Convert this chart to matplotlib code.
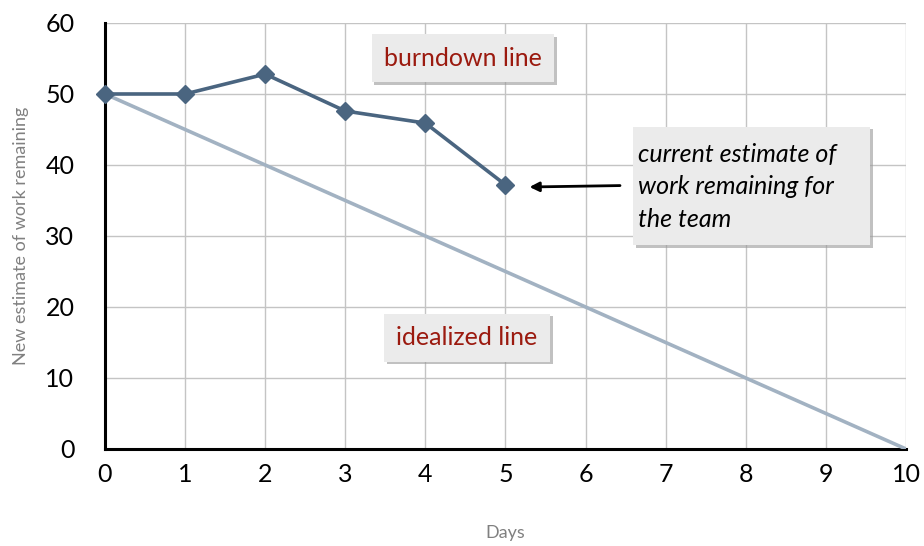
import matplotlib
matplotlib.use("Agg")
import matplotlib.pyplot as plt
import matplotlib.patheffects as pe
from matplotlib.patches import Rectangle

days = [0, 1, 2, 3, 4, 5]
burndown = [50, 50, 52.8, 47.6, 45.9, 37.2]
ideal_days = [0, 10]
ideal = [50, 0]
x_ticks = list(range(0, 11))
y_ticks = [0, 10, 20, 30, 40, 50, 60]

plt.rcParams['font.family'] = ['Lato', 'DejaVu Sans']

fig = plt.figure(figsize=(9.24, 5.46), dpi=100)
ax = fig.add_axes([0.1136, 0.1777, 0.8669, 0.7802])

ax.plot(ideal_days, ideal, color='#a2b2c2', lw=2.6, solid_capstyle='butt', zorder=3)
ax.plot(days, burndown, color='#4a6580', lw=2.6, marker='D', markersize=9,
        zorder=4, clip_on=False)

ax.set_xlim(0, 10)
ax.set_ylim(0, 60)
ax.set_xticks(x_ticks)
ax.set_yticks(y_ticks)
ax.grid(True, color='#c4c4c4', lw=1)
ax.set_axisbelow(True)
for s in ['top', 'right']:
    ax.spines[s].set_visible(False)
for s in ['left', 'bottom']:
    ax.spines[s].set_linewidth(2.2)
    ax.spines[s].set_color('black')
ax.tick_params(length=0, labelsize=18, pad=10)
ax.tick_params(axis='y', pad=22)

ax.set_xlabel('Days', fontsize=13, color='#808080', labelpad=28)
ax.set_ylabel('New estimate of work remaining', fontsize=13, color='#808080', labelpad=12)

shadow = [pe.withSimplePatchShadow(offset=(2, -2), shadow_rgbFace='#999999', alpha=0.6)]

def label(x, y, s, **kw):
    t = ax.text(x, y, s, ha='center', va='center', fontsize=18, color='#9b1a0f',
                bbox=dict(boxstyle='square,pad=0.5', fc='#ebebeb', ec='none'), zorder=6, **kw)
    t.get_bbox_patch().set_path_effects(shadow)
    return t

label(4.47, 55.0, 'burndown line')
label(4.52, 15.7, 'idealized line')

box = Rectangle((6.59, 28.7), 2.96, 16.7, fc='#ebebeb', ec='none', zorder=6)
box.set_path_effects(shadow)
ax.add_patch(box)
ax.text(6.65, 36.9, 'current estimate of\nwork remaining for\nthe team', ha='left', va='center',
        fontsize=18, style='italic', color='black', linespacing=1.5, zorder=7)

ax.annotate('', xy=(5.3, 36.9), xytext=(6.43, 37.1),
            arrowprops=dict(arrowstyle='-|>', color='black', lw=2, mutation_scale=14,
                            shrinkA=0, shrinkB=0), zorder=7)

fig.savefig('out.png', dpi=100)
